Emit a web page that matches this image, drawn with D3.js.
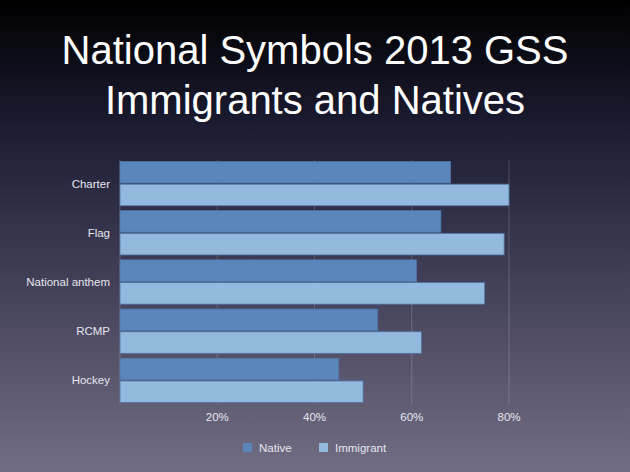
<!DOCTYPE html>
<html><head><meta charset="utf-8">
<script src="https://cdn.jsdelivr.net/npm/d3@7"></script>
<style>body{margin:0;overflow:hidden}</style>
</head><body>
<script>
var categories = ["Charter", "Flag", "National anthem", "RCMP", "Hockey"];
var seriesNames = ["Native", "Immigrant"];
var nativeValues = [68, 66, 61, 53, 45];
var immigrantValues = [80, 79, 75, 62, 50];
var tickValues = [20, 40, 60, 80];

var W = 630, H = 472;
var colors = { Native: "#5b86bb", Immigrant: "#93b9de" };

var svg = d3.select("body").append("svg").attr("width", W).attr("height", H)
    .style("font-family", "'Liberation Sans', Arial, sans-serif");

var grad = svg.append("defs").append("linearGradient")
    .attr("id", "bg").attr("x1", 0).attr("y1", 0).attr("x2", 0).attr("y2", 1);
grad.append("stop").attr("offset", "0%").attr("stop-color", "#000000");
grad.append("stop").attr("offset", "30%").attr("stop-color", "#1f1f38");
grad.append("stop").attr("offset", "100%").attr("stop-color", "#716d84");
svg.append("rect").attr("width", W).attr("height", H).attr("fill", "url(#bg)");

svg.append("text").attr("x", W / 2).attr("y", 64).attr("text-anchor", "middle")
    .attr("fill", "#fff").style("font-size", "40px").text("National Symbols 2013 GSS");
svg.append("text").attr("x", W / 2).attr("y", 114).attr("text-anchor", "middle")
    .attr("fill", "#fff").style("font-size", "40px").text("Immigrants and Natives");

var x = d3.scaleLinear().domain([0, 80]).range([120, 509]);
var y0 = d3.scaleBand().domain(categories).range([160, 404]).paddingInner(0.1).paddingOuter(0.03);
var y1 = d3.scaleBand().domain(seriesNames).range([0, y0.bandwidth()]).paddingInner(0.05);

// gridlines
svg.append("g").selectAll("line").data([0].concat(tickValues)).enter().append("line")
    .attr("x1", function(d) { return x(d); }).attr("x2", function(d) { return x(d); })
    .attr("y1", 160).attr("y2", 404)
    .attr("stroke", "#ffffff").attr("stroke-opacity", 0.18);

var data = categories.map(function(c, i) {
    return { cat: c, values: [{ key: "Native", value: nativeValues[i] }, { key: "Immigrant", value: immigrantValues[i] }] };
});

svg.append("g").selectAll("g").data(data).enter().append("g")
    .attr("transform", function(d) { return "translate(0," + y0(d.cat) + ")"; })
    .selectAll("rect").data(function(d) { return d.values; }).enter().append("rect")
    .attr("x", x(0))
    .attr("y", function(d) { return y1(d.key); })
    .attr("width", function(d) { return x(d.value) - x(0); })
    .attr("height", y1.bandwidth())
    .attr("fill", function(d) { return colors[d.key]; })
    .attr("stroke", "#4f73a3").attr("stroke-width", 0.8);

// category labels
svg.append("g").selectAll("text").data(categories).enter().append("text")
    .attr("x", 110).attr("y", function(d) { return y0(d) + y0.bandwidth() / 2; })
    .attr("dy", "0.35em").attr("text-anchor", "end").attr("fill", "#e6e6ee")
    .style("font-size", "11.5px").text(function(d) { return d; });

// x axis labels
svg.append("g").selectAll("text").data(tickValues).enter().append("text")
    .attr("x", function(d) { return x(d); }).attr("y", 421).attr("text-anchor", "middle")
    .attr("fill", "#e6e6ee").style("font-size", "11.5px").text(function(d) { return d + "%"; });

// legend
var legendX = [243, 319];
var lg = svg.append("g").selectAll("g").data(seriesNames).enter().append("g")
    .attr("transform", function(d, i) { return "translate(" + legendX[i] + ",443)"; });
lg.append("rect").attr("width", 9).attr("height", 9).attr("fill", function(d) { return colors[d]; });
lg.append("text").attr("x", 16).attr("y", 4.5).attr("dy", "0.35em").attr("fill", "#e6e6ee")
    .style("font-size", "11.5px").text(function(d) { return d; });
</script>
</body></html>
